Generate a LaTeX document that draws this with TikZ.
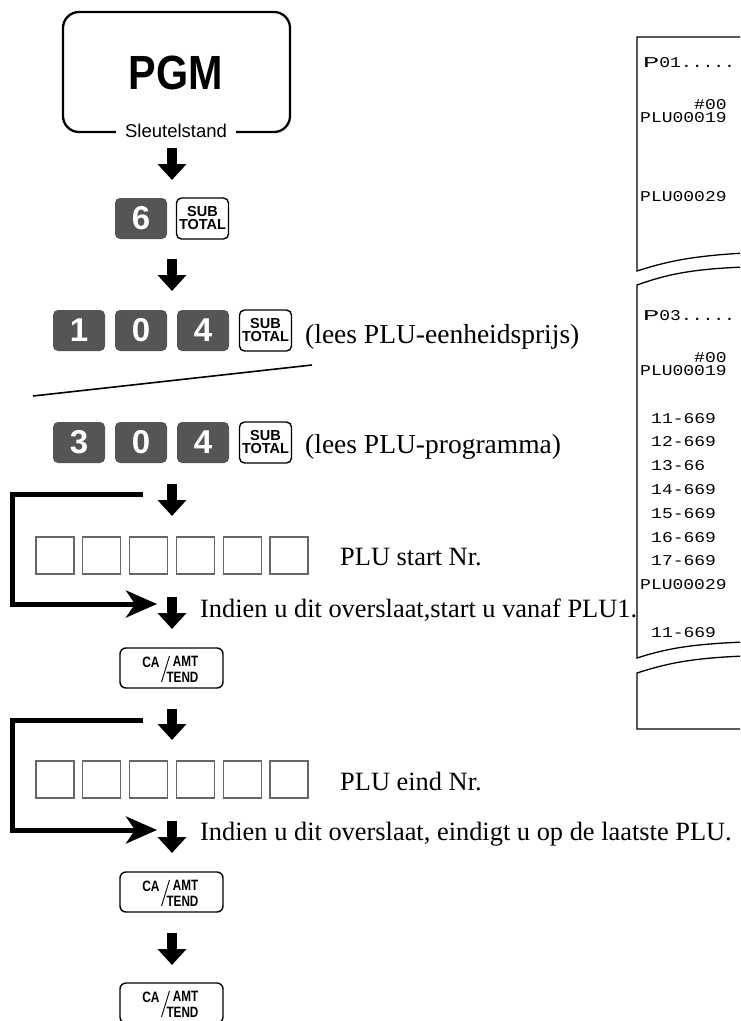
\documentclass[tikz,border=0pt]{standalone}
\usepackage{fontspec}
\setmainfont{Liberation Serif}
\setsansfont{Liberation Sans}
\setmonofont{Liberation Mono}
\usetikzlibrary{arrows.meta,calc}
\definecolor{keygray}{HTML}{555555}
\definecolor{boxgray}{HTML}{666666}
\tikzset{
 darkkey/.style={fill=keygray, rounded corners=5pt, minimum width=52pt, minimum height=41pt, inner sep=0pt, text=white, font=\sffamily\bfseries\fontsize{33}{33}\selectfont},
 whitekey/.style={draw=black, fill=white, line width=1.4pt, rounded corners=5pt, minimum width=52pt, minimum height=41pt, inner sep=0pt, align=center, font=\sffamily\bfseries\fontsize{14.5}{13}\selectfont},
 cakey/.style={draw=black, line width=1.4pt, rounded corners=6pt, minimum width=103pt, minimum height=40pt, inner sep=0pt},
 calbl/.style={font=\sffamily\bfseries\fontsize{15}{15}\selectfont, inner sep=0pt},
 entry/.style={draw=boxgray, line width=1.2pt, minimum width=38pt, minimum height=37pt, inner sep=0pt},
 note/.style={font=\fontsize{26.4}{30}\selectfont, anchor=base west, inner sep=0pt},
 bignote/.style={note, font=\fontsize{27.5}{30}\selectfont},
 downarrow/.style={line width=10pt, -{Triangle[length=16pt,width=28pt]}},
 skiparrow/.style={line width=5pt, line join=miter, -{Stealth[length=31pt,width=27pt,inset=9pt]}},
 rcpt/.style={font=\ttfamily\fontsize{15}{15}\selectfont, anchor=base west, inner sep=0pt},
 paper/.style={draw=black, line width=1.3pt},
}
\newcommand\hsq[2]{\scalebox{#1}[1]{#2}}
\newcommand\rc[1]{\hsq{1.2}{#1}}
\newcommand\CAkey[3]{%
 \node[cakey] (#1) at (#2,#3) {};
 \node[calbl] (#1-ca) at ($(#1)+(-20.5,-6)$) {\hsq{0.8}{CA}};
 \node[calbl] (#1-amt) at ($(#1)+(14,-6.5)$) {\hsq{0.78}{AMT}};
 \node[calbl] (#1-tend) at ($(#1)+(11,9.5)$) {\hsq{0.78}{TEND}};
 \draw[line width=0.9pt] ($(#1)+(-10,14)$) -- ($(#1)+(-2,-12)$);
}
\begin{document}
\begin{tikzpicture}[x=1pt,y=-1pt]
\useasboundingbox (0,0) rectangle (740,1021);
\begin{scope}
\clip (0,0) rectangle (740,1021);
% PGM mode box
\node[draw, line width=2.3pt, rounded corners=16pt, minimum width=227pt, minimum height=120pt] (pgm) at (176.5,72) {};
\node[font=\sffamily\bfseries\fontsize{48}{48}\selectfont, inner sep=0pt] (pgmtxt) at (175.5,72.5) {\hsq{0.86}{PGM}};
\node[fill=white, inner xsep=9pt, inner ysep=2pt, font=\sffamily\fontsize{18.5}{18.5}\selectfont] (sleutel) at (176,131) {Sleutelstand};
% step 1
\node[darkkey] (k6) at (141,218.5) {6};
\node[whitekey] (st1) at (202.5,218.5) {SUB\\TOTAL};
% step 2
\node[darkkey] (r1a) at (79,330.5) {1};
\node[darkkey] (r1b) at (141,330.5) {0};
\node[darkkey] (r1c) at (203,330.5) {4};
\node[whitekey] (st2) at (265.5,330.5) {SUB\\TOTAL};
\node[bignote] (t1) at (305,343) {(lees PLU-eenheidsprijs)};
\coordinate (sl1) at (33,396);
\coordinate (sl2) at (312,365);
\draw[line width=1.6pt] (sl1) -- (sl2);
\node[darkkey] (r2a) at (79,442.5) {3};
\node[darkkey] (r2b) at (141,442.5) {0};
\node[darkkey] (r2c) at (203,442.5) {4};
\node[whitekey] (st3) at (265.5,442.5) {SUB\\TOTAL};
\node[bignote] (t2) at (305,453) {(lees PLU-programma)};
% start number
\foreach \i in {0,...,5} \node[entry] (a\i) at ({55+46.8*\i},555.5) {};
\node[note] (t3) at (340,565) {PLU start Nr.};
\node[note] (t4) at (200,617) {Indien u dit overslaat,start u vanaf PLU1.};
\CAkey{ca1}{171.5}{668}
% end number
\foreach \i in {0,...,5} \node[entry] (b\i) at ({55+46.8*\i},779.5) {};
\node[note] (t5) at (340,790) {PLU eind Nr.};
\node[note] (t6) at (200,840) {Indien u dit overslaat, eindigt u op de laatste PLU.};
\CAkey{ca2}{171.5}{892}
\CAkey{ca3}{171.5}{1003}
% down arrows
\coordinate (d1a) at (172,148); \coordinate (d1b) at (172,180);
\coordinate (d2a) at (172,259); \coordinate (d2b) at (172,291);
\coordinate (d3a) at (172,484); \coordinate (d3b) at (172,516);
\coordinate (d4a) at (172,597); \coordinate (d4b) at (172,629);
\coordinate (d5a) at (172,709); \coordinate (d5b) at (172,740);
\coordinate (d6a) at (172,821); \coordinate (d6b) at (172,853);
\coordinate (d7a) at (172,933); \coordinate (d7b) at (172,965);
\foreach \n in {1,...,7} \draw[downarrow] (d\n a) -- (d\n b);
% skip brackets
\coordinate (s1a) at (143,494); \coordinate (s1b) at (157,604);
\draw[skiparrow] (s1a) -- (12,494) -- (12,604) -- (s1b);
\coordinate (s2a) at (143,720); \coordinate (s2b) at (157,830);
\draw[skiparrow] (s2a) -- (12,720) -- (12,830) -- (s2b);
% receipt
\draw[paper] (745,37) -- (637,37) -- (637,271) .. controls (665,262) and (690,256) .. (745,253);
\draw[paper] (745,267) .. controls (690,269) and (665,275) .. (637,285) -- (637,658) .. controls (665,649) and (690,644) .. (745,642);
\draw[paper] (745,656) .. controls (690,658) and (665,664) .. (637,673) -- (637,729) -- (745,729);
\node[rcpt] (p1) at (643,67) {\rc{\hsq{1.5}{P}01.....}};
\node[rcpt] (p2) at (694,109) {\rc{\#00}};
\node[rcpt] (p3) at (640,122) {\rc{PLU00019}};
\node[rcpt] (p4) at (640,201) {\rc{PLU00029}};
\node[rcpt] (q1) at (643,320) {\rc{\hsq{1.5}{P}03.....}};
\node[rcpt] (q2) at (694,362) {\rc{\#00}};
\node[rcpt] (q3) at (640,375) {\rc{PLU00019}};
\node[rcpt] (q4) at (651,423) {\rc{11-669}};
\node[rcpt] (q5) at (651,446) {\rc{12-669}};
\node[rcpt] (q6) at (651,470) {\rc{13-66}};
\node[rcpt] (q7) at (651,494) {\rc{14-669}};
\node[rcpt] (q8) at (651,518) {\rc{15-669}};
\node[rcpt] (q9) at (651,542) {\rc{16-669}};
\node[rcpt] (q10) at (651,565) {\rc{17-669}};
\node[rcpt] (q11) at (640,589) {\rc{PLU00029}};
\node[rcpt] (q12) at (651,637) {\rc{11-669}};
\end{scope}
\end{tikzpicture}
\end{document}
